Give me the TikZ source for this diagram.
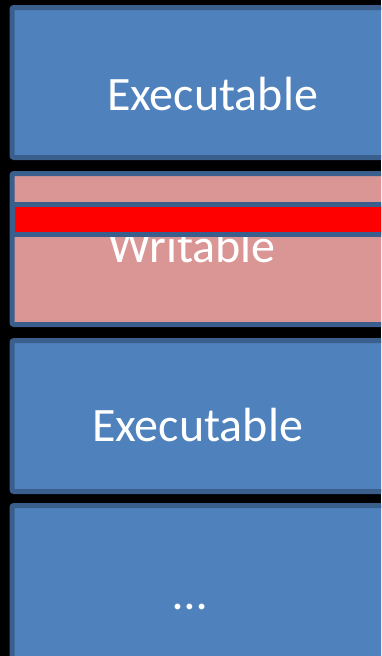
\documentclass[tikz,border=0pt]{standalone}
\usepackage{fontspec}
\setmainfont{Carlito}
\usepackage{xcolor}
\usetikzlibrary{positioning}
\definecolor{blockblue}{HTML}{4F81BD}
\definecolor{blockedge}{HTML}{3A5F8C}
\definecolor{blockpink}{HTML}{D99694}
\tikzset{%
	memblock/.style  = {draw=blockedge, fill=blockblue, line width=5pt, rectangle, rounded corners=2pt, anchor=north west, inner sep=0pt, outer sep=0pt, minimum width=400pt},
	writeblock/.style= {memblock, fill=blockpink},
	redbar/.style    = {draw=blockedge, fill=red, line width=5pt, rectangle, anchor=north west, inner sep=0pt, outer sep=0pt, minimum width=400pt, minimum height=30pt},
	blocktext/.style = {text=white, anchor=base, inner sep=0pt, font=\fontsize{48}{57}\selectfont},
}
\begin{document}
\begin{tikzpicture}[x=1pt,y=-1pt]
		\clip (0,0) rectangle (381,656);
		\fill[black] (0,0) rectangle (381,656); % background
		\node[memblock, minimum height=150pt] (exec1) at (12,7.5) {};
		\node[writeblock, minimum height=151pt] (write) at (12,173.5) {};
		\node[memblock, minimum height=151pt] (exec2) at (12,340.5) {};
		\node[memblock, minimum height=200pt] (more) at (12,505.5) {};
		\node[blocktext] (exec1text) at (212.5,110) {Executable};
		\node[blocktext] (writetext) at (192,262) {Writable};
		\node[blocktext] (exec2text) at (197.5,441.7) {Executable};
		\node[blocktext] (moretext) at (190.5,609.5) {…};
		\node[redbar] (overflow) at (12,204.5) {}; % covers the top of the text
		\end{tikzpicture}
\end{document}
